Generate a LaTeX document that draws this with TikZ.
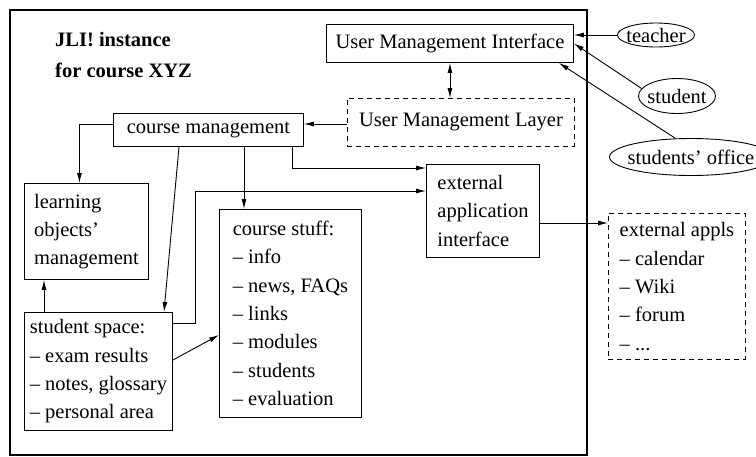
\documentclass[tikz,border=0pt]{standalone}
\usepackage{fontspec}
\setmainfont{Liberation Serif}
\usetikzlibrary{arrows.meta,shapes.geometric,calc}

\begin{document}
\begin{tikzpicture}[x=1pt,y=-1pt,
  font=\fontsize{20.5}{28.3}\selectfont,
  >={Latex[length=10pt,width=5pt]},
  box/.style={draw, anchor=north west, align=left, inner sep=2pt, line width=0.9pt},
  extbox/.style={box, dash pattern=on 5pt off 4pt},
  actor/.style={draw, ellipse, inner xsep=-6pt, inner ysep=0pt, line width=0.9pt},
  link/.style={draw, line width=0.9pt, ->}]
\useasboundingbox (0,0) rectangle (756,456);

\draw[line width=2.5pt] (10,10) rectangle (587,455);
\node[anchor=base west, align=left, inner sep=0pt, font=\fontsize{20.5}{30.5}\selectfont\bfseries] (title) at (55,77) {JLI! instance\\for course XYZ};

\node[box, minimum width=247pt, minimum height=38pt] (umi) at (326,24) {User Management Interface};
\node[extbox, minimum width=227pt, minimum height=48pt] (uml) at (347,98) {User Management Layer};
\node[box, minimum width=190pt, minimum height=33pt] (cm) at (113,113) {course management};
\node[box, minimum width=124pt, minimum height=96pt] (lom) at (24,183) {learning\\objects'\\management};
\node[box, minimum width=148pt, minimum height=118pt] (ss) at (24,312) {student space:\\-- exam results\\-- notes, glossary\\-- personal area};
\node[box, minimum width=142pt, minimum height=208pt] (cs) at (219,209) {course stuff:\\-- info\\-- news, FAQs\\-- links\\-- modules\\-- students\\-- evaluation};
\node[box, minimum width=113pt, minimum height=93pt] (eai) at (426,164) {external\\application\\interface};
\node[extbox, minimum width=137pt, minimum height=146pt] (ea) at (608,213) {external appls\\-- calendar\\-- Wiki\\-- forum\\-- ...};

\node[actor, minimum width=77pt, minimum height=24pt] (teacher) at (656,35) {teacher};
\node[actor, minimum width=77pt, minimum height=35pt] (student) at (677,96) {student};
\node[actor, minimum width=163pt, minimum height=37pt] (office) at (691,157) {students' office};

% user management
\draw[link, <->] (umi.south) -- (umi.south |- uml.north);
\coordinate (umlout) at ($(uml.north west)+(0,26)$);
\draw[link] (umlout) -- (umlout -| cm.east);
\draw[link] (teacher.west) -- (teacher.west -| umi.east);
\draw[link] (student.168) -- (umi.east);
\draw[link] ($(office.north)+(-16,0)$) -- ($(umi.south east)+(-15,0)$);

% course management
\draw[link] ($(cm.north west)+(0,11)$) -| ($(lom.north)+(-7,0)$);
\draw[link] ($(cm.south west)+(66,0)$) -- ($(ss.north west)+(140,0)$);
\coordinate (cmcs) at ($(cm.south west)+(131,0)$);
\draw[link] (cmcs) -- (cmcs |- cs.north);
\draw[link] ($(cm.south east)+(-11,0)$) |- ($(eai.north west)+(0,4)$);

% student space
\draw[link] ($(ss.north west)+(20,0)$) -- ($(lom.south west)+(20,0)$);
\draw[link] ($(ss.north east)+(0,11)$) -- ++(23,0) |- ($(eai.north west)+(0,27)$);
\draw[link] ($(ss.north east)+(0,48)$) -- ($(cs.north west)+(0,126)$);

% external
\coordinate (eaiout) at ($(eai.north east)+(0,59)$);
\draw[link] (eaiout) -- (eaiout -| ea.west);

\end{tikzpicture}
\end{document}
